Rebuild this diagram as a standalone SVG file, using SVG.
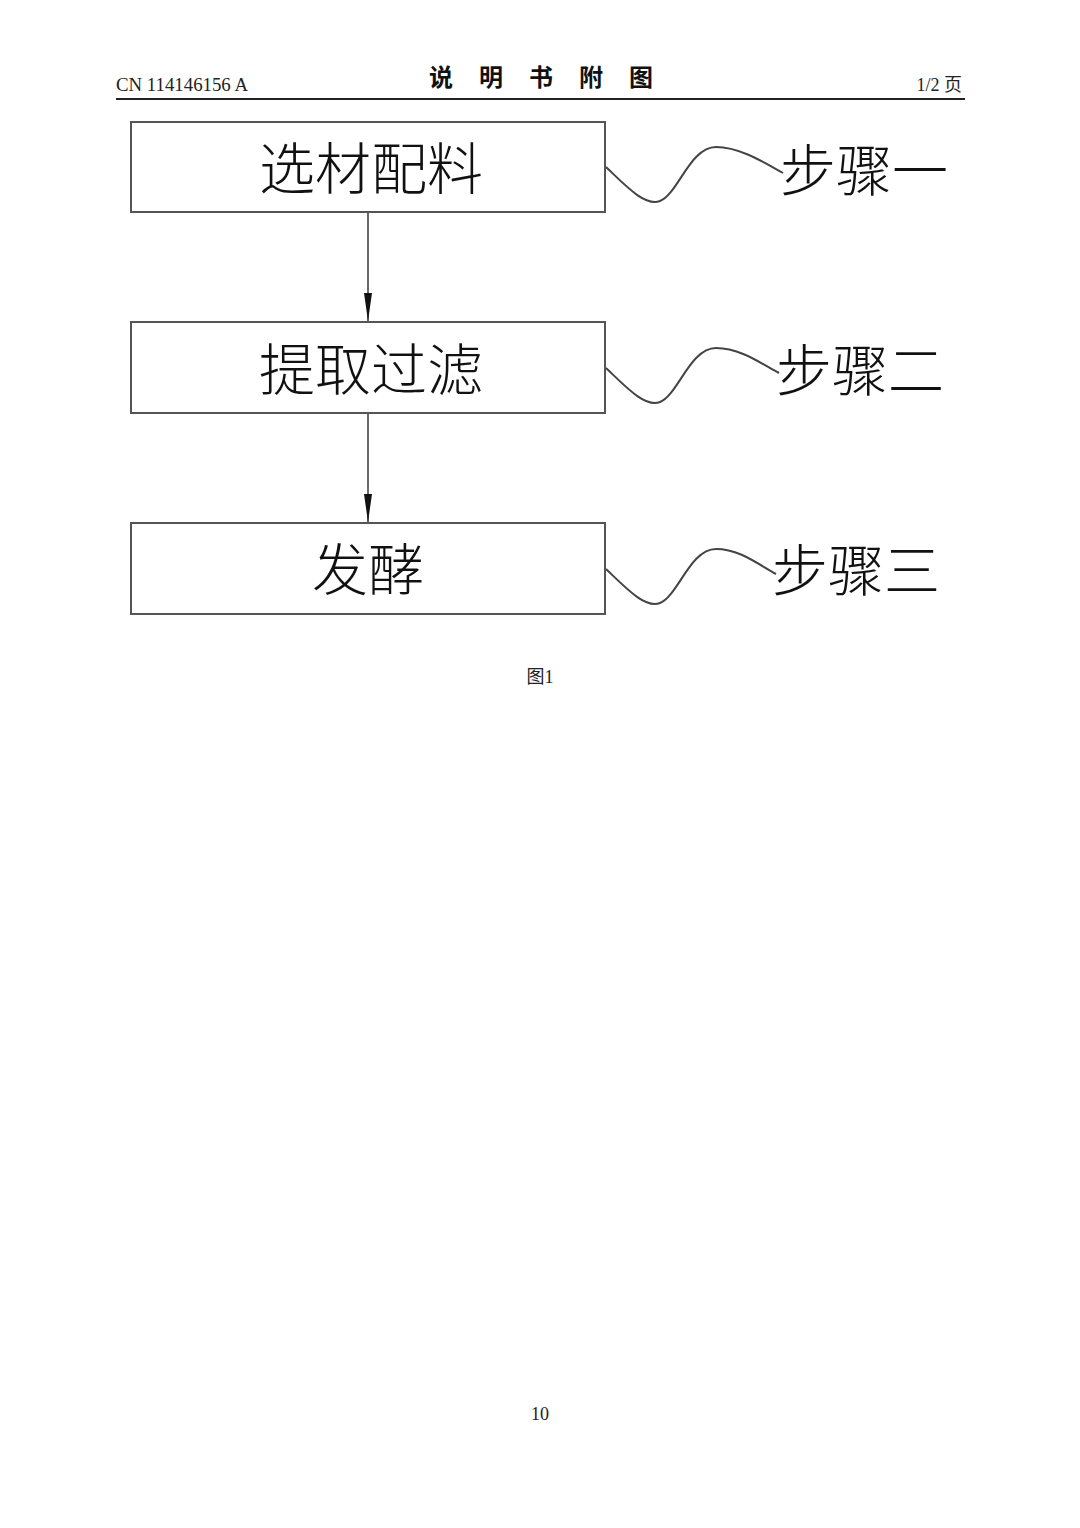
<svg xmlns="http://www.w3.org/2000/svg" width="1080" height="1528" viewBox="0 0 1080 1528">
<style>
.box{fill:#fff;stroke:#555;stroke-width:2}
.wave{fill:none;stroke:#444;stroke-width:2}
.conn{stroke:#444;stroke-width:1.6}
.big{font-family:"Noto Sans CJK SC","Noto Sans CJK JP",sans-serif;font-size:56px;fill:#111;font-weight:300}
.hdr{font-family:"Liberation Serif","Noto Sans CJK SC",serif;font-size:18px;fill:#222}
</style>
<defs>
<marker id="arr" markerWidth="28" markerHeight="10" refX="28" refY="5" orient="auto" markerUnits="userSpaceOnUse" viewBox="0 0 28 10">
<path d="M0,1 L28,5 L0,9 Z" fill="#111"/>
</marker>
</defs>
<rect width="1080" height="1528" fill="#fff"/>
<g id="header">
<text class="hdr" x="116" y="91" textLength="132" lengthAdjust="spacingAndGlyphs">CN 114146156 A</text>
<text x="554" y="86" text-anchor="middle" font-family="Noto Sans CJK SC,sans-serif" font-size="24" font-weight="bold" fill="#111" letter-spacing="26">说明书附图</text>
<text class="hdr" x="962" y="91" text-anchor="end">1/2 页</text>
<line x1="116" y1="99" x2="965" y2="99" stroke="#222" stroke-width="2"/>
</g>
<g id="connectors">
<line class="conn" x1="368" y1="213" x2="368" y2="321" marker-end="url(#arr)"/>
<line class="conn" x1="368" y1="414" x2="368" y2="522" marker-end="url(#arr)"/>
<path class="wave" d="M606,167 C625,185 645,207 660,201 C678,194 690,147 716,147 C740,147 765,163 783,173"/>
<path class="wave" d="M606,368 C625,386 645,408 660,402 C678,395 690,348 716,348 C740,348 762,364 779,373"/>
<path class="wave" d="M606,569 C625,587 645,609 660,603 C678,596 690,549 716,549 C740,549 759,565 776,574"/>
</g>
<g id="node1">
<rect class="box" x="131" y="122" width="474" height="90"/>
<text class="big" x="371" y="164" text-anchor="middle" dominant-baseline="central">选材配料</text>
</g>
<g id="node2">
<rect class="box" x="131" y="322" width="474" height="91"/>
<text class="big" x="371" y="365" text-anchor="middle" dominant-baseline="central">提取过滤</text>
</g>
<g id="node3">
<rect class="box" x="131" y="523" width="474" height="91"/>
<text class="big" x="368" y="565" text-anchor="middle" dominant-baseline="central">发酵</text>
</g>
<g id="label1"><text class="big" x="780" y="166" dominant-baseline="central">步骤一</text></g>
<g id="label2"><text class="big" x="776" y="366" dominant-baseline="central">步骤二</text></g>
<g id="label3"><text class="big" x="772" y="566" dominant-baseline="central">步骤三</text></g>
<g id="caption">
<text class="hdr" x="540" y="683" text-anchor="middle" font-size="20">图1</text>
<text class="hdr" x="540" y="1420" text-anchor="middle">10</text>
</g>
</svg>
